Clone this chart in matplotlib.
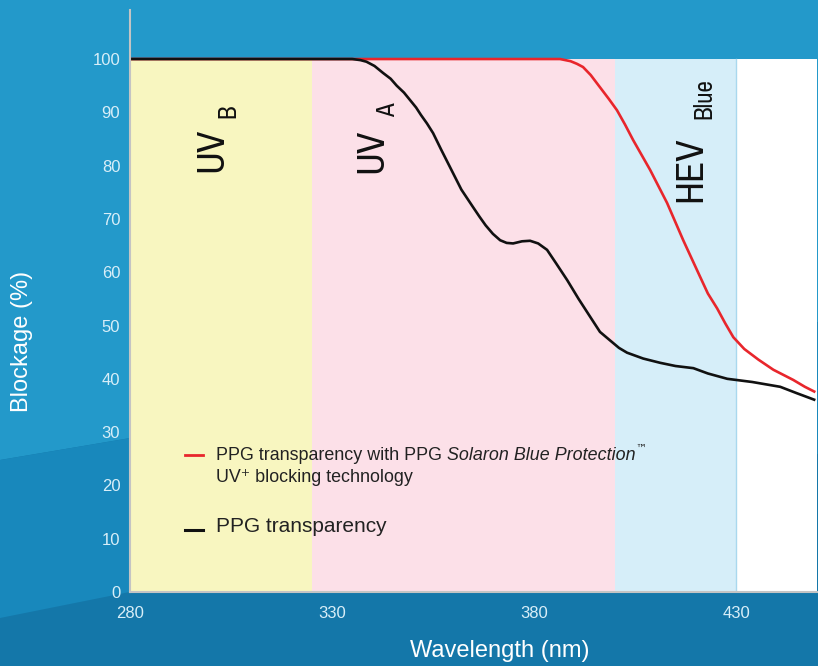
import matplotlib
matplotlib.use("Agg")
import matplotlib.pyplot as plt
from matplotlib import font_manager
from matplotlib.patches import Polygon

# ---------------- data ----------------
x_ticks = [280, 330, 380, 430]
y_ticks = [0, 10, 20, 30, 40, 50, 60, 70, 80, 90, 100]

regions = ["UVB", "UVA", "HEV", "VIS"]
region_start = [280, 325, 400, 430]
region_end = [325, 400, 430, 450]
region_colors = ["#f8f6c0", "#fce0e8", "#d6eef9", "#ffffff"]

black_x = [280, 335, 337, 338.5, 340.5, 342.6, 344.5, 346, 347.8, 349.3, 350.8, 352,
           353.5, 355, 357, 359.2, 362, 364.9, 366.5, 368, 369.8, 371.6, 373.2, 374.8,
           377, 379, 381, 383.2, 385.5, 388.2, 391, 393.9, 396.3, 398.8, 401, 403, 407,
           411.2, 415, 419.4, 423, 427.8, 434, 440.9, 445, 449.6]
black_y = [100, 100, 99.8, 99.5, 98.7, 97.4, 96.3, 95, 93.7, 92.3, 90.9, 89.5,
           87.9, 86.1, 83.0, 79.7, 75.5, 72.2, 70.4, 68.8, 67.2, 66.0, 65.5, 65.4,
           65.8, 65.9, 65.4, 64.2, 61.6, 58.5, 55.0, 51.6, 48.8, 47.2, 45.8, 44.9, 43.8,
           43.0, 42.4, 42.0, 41.0, 40.0, 39.4, 38.5, 37.3, 36.0]

red_x = [280, 386.4, 389, 390.6, 392.1, 394, 396.3, 398.5, 400.5, 402.5, 404.5, 408.7,
         412.9, 416.9, 421.1, 423, 425.3, 427.3, 429.3, 432, 435.5, 439.2, 444.1, 447, 449.6]
red_y = [100, 100, 99.6, 99.1, 98.5, 97.0, 94.7, 92.5, 90.4, 87.7, 84.8, 79.2,
         73.0, 66.0, 59.1, 56.0, 53.2, 50.4, 47.8, 45.6, 43.6, 41.7, 39.8, 38.5, 37.5]

# ---------------- fonts ----------------
base = ["Liberation Sans", "DejaVu Sans"]
plt.rcParams["font.family"] = base

narrow_family = None
narrow_stretch = "normal"
for f in font_manager.fontManager.ttflist:
    if f.style != "normal" or f.weight not in (400, "normal", "regular"):
        continue
    if "Narrow" in f.name or "Condensed" in f.name:
        narrow_family = f.name
        break
if narrow_family is None:
    for f in font_manager.fontManager.ttflist:
        st = f.stretch
        if st in ("condensed", "semi-condensed", 500, 600) or (isinstance(st, int) and st < 500):
            if f.style == "normal":
                narrow_family = f.name
                narrow_stretch = "condensed"
                break
if narrow_family is None:
    narrow_family = "Liberation Sans"

W, H = 818, 666
fig = plt.figure(figsize=(W / 100, H / 100), dpi=100)
fig.patch.set_facecolor("#1477a9")


def fx(px):
    return px / W


def fy(py):
    return 1 - py / H


# background bands
top_band = [(0, 0), (W, 0), (W, 322), (0, 460)]
mid_band = [(0, 460), (W, 322), (W, 454), (0, 618)]
for pts, col in [(top_band, "#2399ca"), (mid_band, "#1888bc")]:
    fig.add_artist(Polygon([(fx(a), fy(b)) for a, b in pts], closed=True,
                           transform=fig.transFigure, facecolor=col,
                           edgecolor="none", zorder=0))

ax = fig.add_axes([fx(130), fy(592), fx(817) - fx(130), fy(10) - fy(592)])
ax.patch.set_alpha(0)
ax.set_xlim(280, 450)
ax.set_ylim(0, 109.2)

for s, e, c in zip(region_start, region_end, region_colors):
    ax.fill_between([s, e], 0, 100, color=c, lw=0, zorder=1)
ax.plot([430, 430], [0, 100], color="#a9d8ee", lw=1, zorder=1.5)

ax.plot(red_x, red_y, color="#e8262c", lw=1.9, zorder=3,
        solid_capstyle="butt", solid_joinstyle="round")
ax.plot(black_x, black_y, color="#111111", lw=1.9, zorder=4,
        solid_capstyle="butt", solid_joinstyle="round")

for sp in ["top", "right"]:
    ax.spines[sp].set_visible(False)
for sp in ["left", "bottom"]:
    ax.spines[sp].set_color("#c4c4c4")
    ax.spines[sp].set_linewidth(1.5)
    ax.spines[sp].set_zorder(5)

ax.set_xticks(x_ticks)
ax.set_yticks(y_ticks)
ax.tick_params(axis="both", length=0, colors="#d8eef8", labelsize=12)
ax.tick_params(axis="y", pad=7)
ax.tick_params(axis="x", pad=10)

fig.canvas.draw()
renderer = fig.canvas.get_renderer()


# region labels
def vlabel(x, y, s, target_len=None, size=20):
    t = ax.text(x, y, s, rotation=90, ha="center", va="center", fontsize=size,
                family=[narrow_family, "DejaVu Sans"], stretch=narrow_stretch,
                color="#111111", zorder=6)
    if target_len is not None:
        h = t.get_window_extent(renderer).height
        t.set_fontsize(min(28, size * target_len / h))
    return t


vlabel(300.2, 83.0, "UV", 46)
vlabel(304.3, 90.3, "B", size=18)
vlabel(339.8, 82.8, "UV", 46)
vlabel(343.8, 90.4, "A", size=18)
vlabel(418.7, 79.3, "HEV", 66)
vlabel(421.9, 92.6, "Blue", size=18)

# axis titles
fig.text(fx(500), fy(651), "Wavelength (nm)", ha="center", va="center",
         fontsize=17, color="white")
fig.text(fx(22), fy(341), "Blockage (%)", ha="center", va="center",
         rotation=90, fontsize=17, color="white")

# legend (custom)
tr = fig.transFigure
fig.add_artist(plt.Line2D([fx(185), fx(203)], [fy(455), fy(455)], color="#e8262c",
                          lw=2, transform=tr, zorder=7))
fig.add_artist(plt.Line2D([fx(185), fx(203)], [fy(530), fy(530)], color="#111111",
                          lw=2.2, transform=tr, zorder=7))

leg_size = 12.9
t1 = fig.text(fx(216), fy(455), "PPG transparency with PPG ", ha="left", va="center",
              fontsize=leg_size, color="#222222", zorder=7)
bb = t1.get_window_extent(renderer)
t2 = fig.text(bb.x1 / W, fy(455), "Solaron Blue Protection", ha="left", va="center",
              fontsize=leg_size, style="italic", color="#222222", zorder=7)
bb2 = t2.get_window_extent(renderer)
fig.text(bb2.x1 / W, fy(449), "\u2122", ha="left", va="center",
         fontsize=8, color="#222222", zorder=7, family=["DejaVu Sans"])
fig.text(fx(216), fy(478), "UV\u207a blocking technology", ha="left", va="center",
         fontsize=leg_size, color="#222222", zorder=7)
fig.text(fx(216), fy(527), "PPG transparency", ha="left", va="center",
         fontsize=15, color="#222222", zorder=7)

fig.savefig("out.png", dpi=100, facecolor=fig.get_facecolor())
